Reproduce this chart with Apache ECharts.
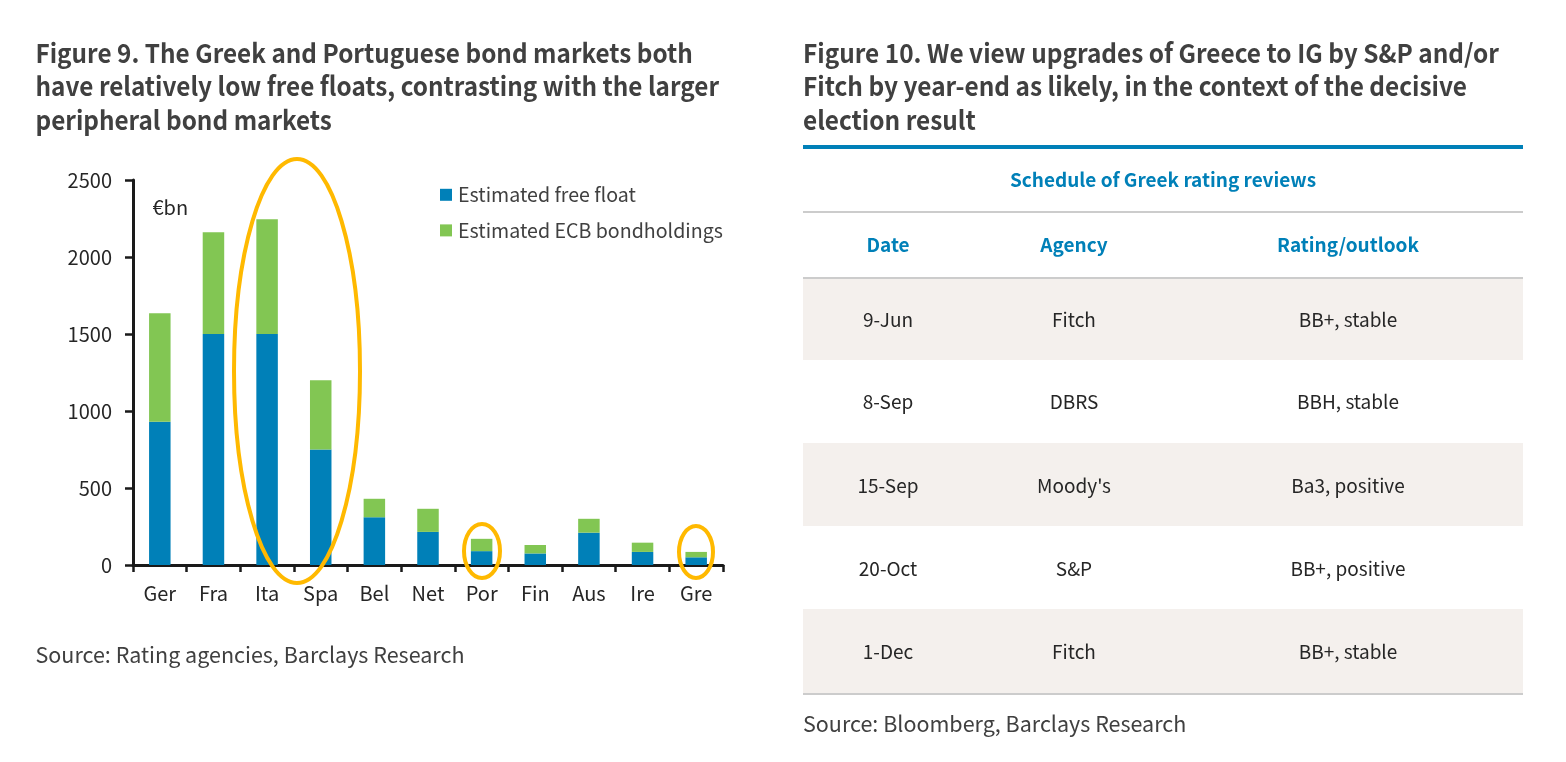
<!DOCTYPE html>
<html><head><meta charset="utf-8">
<style>html,body{margin:0;padding:0;background:#fff}#c{width:1566px;height:762px}</style>
<script src="https://cdn.jsdelivr.net/npm/echarts@6/dist/echarts.min.js"></script>
</head><body><div id="c"></div>
<script>
const categories = ['Ger','Fra','Ita','Spa','Bel','Net','Por','Fin','Aus','Ire','Gre'];
const freeFloat = [930,1500,1500,750,310,215,90,75,210,85,50];
const ecbHoldings = [705,660,745,450,120,150,80,55,90,60,35];
const yTicks = [0,2500,500];
const title9 = ['Figure 9. The Greek and Portuguese bond markets both','have relatively low free floats, contrasting with the larger','peripheral bond markets'];
const title10 = ['Figure 10. We view upgrades of Greece to IG by S&P and/or','Fitch by year-end as likely, in the context of the decisive','election result'];
const source9 = 'Source: Rating agencies, Barclays Research';
const source10 = 'Source: Bloomberg, Barclays Research';
const tableTitle = 'Schedule of Greek rating reviews';
const tableHead = ['Date','Agency','Rating/outlook'];
const dates = ['9-Jun','8-Sep','15-Sep','20-Oct','1-Dec'];
const agencies = ['Fitch','DBRS',"Moody's",'S&P','Fitch'];
const ratings = ['BB+, stable','BBH, stable','Ba3, positive','BB+, positive','BB+, stable'];

const FONT='"Noto Sans CJK SC","Noto Sans",sans-serif';
const BLUE='#0080b8', GREEN='#82c653', DARK='#404040', AMBER='#ffb900', BAND='#f4f0ed', RULE='#cccccc', INK='#262626';
const TX=803, TW=720, colX=[888,1074,1348];
const rowBands=[[279,81],[360,83],[443,83],[526,83],[609,84]];
const rowTextY=[319.5,401.5,485.5,568.5,651.5];

function text(x,y,s,size,weight,fill,align,sx){
  return {type:'text',x:x,y:y,scaleX:sx||1,z:20,style:{text:s,font:`${weight} ${size}px ${FONT}`,fill:fill,align:align||'left',verticalAlign:'middle'}};
}
function rule(y,h,c){return {type:'rect',z:5,shape:{x:TX,y:y,width:TW,height:h},style:{fill:c}};}
function oval(cx,cy,rx,ry){return {type:'ellipse',z:30,shape:{cx,cy,rx,ry},style:{fill:'none',stroke:AMBER,lineWidth:4}};}

const g=[];
title9.forEach((s,i)=>g.push(text(35.5,53+i*33.5,s,26,600,DARK,'left',0.935)));
title10.forEach((s,i)=>g.push(text(803,53+i*33.5,s,26,600,DARK,'left',0.938)));
g.push(text(152.5,207,'€bn',20,400,INK));
g.push(text(35.5,655,source9,21.5,400,DARK));
g.push(text(803,724,source10,21.5,400,DARK));
g.push(rule(145,4,BLUE));
g.push(text(TX+TW/2,180,tableTitle,19,700,BLUE,'center'));
g.push(rule(211,2,RULE));
tableHead.forEach((s,i)=>g.push(text(colX[i],245,s,19,700,BLUE,'center')));
g.push(rule(277,2,RULE));
[0,2,4].forEach(i=>g.push(rule(rowBands[i][0],rowBands[i][1],BAND)));
dates.forEach((s,i)=>{
  g.push(text(colX[0],rowTextY[i],s,19,400,INK,'center'));
  g.push(text(colX[1],rowTextY[i],agencies[i],19,400,INK,'center'));
  g.push(text(colX[2],rowTextY[i],ratings[i],19,400,INK,'center'));
});
g.push(rule(693,2,RULE));
g.push(oval(297,371,63,212),oval(482,551,18,27),oval(696,552,17,26));

const chart=echarts.init(document.getElementById('c'),null,{renderer:'canvas'});
chart.setOption({
  animation:false,backgroundColor:'#fff',textStyle:{fontFamily:FONT},
  grid:{left:133,top:180,width:590,height:385,containLabel:false},
  legend:{left:435,top:180,orient:'vertical',itemWidth:12,itemHeight:12,itemGap:16,icon:'rect',
    textStyle:{fontFamily:FONT,fontSize:19.6,color:DARK,padding:[0,0,0,1]},data:['Estimated free float','Estimated ECB bondholdings'],selectedMode:false},
  xAxis:{type:'category',data:categories,boundaryGap:true,
    axisLine:{lineStyle:{color:'#1a1a1a',width:3}},axisTick:{show:true,length:7,alignWithLabel:false,lineStyle:{color:'#1a1a1a',width:2.5}},
    axisLabel:{fontFamily:FONT,fontSize:20,color:INK,margin:18,interval:0}},
  yAxis:{type:'value',min:yTicks[0],max:yTicks[1],interval:yTicks[2],
    splitLine:{show:false},axisLine:{show:true,lineStyle:{color:'#1a1a1a',width:3}},
    axisTick:{show:true,length:8,lineStyle:{color:'#1a1a1a',width:2.5}},
    axisLabel:{fontFamily:FONT,fontSize:20,color:INK,margin:21,formatter:v=>String(v)}},
  series:[
    {name:'Estimated free float',type:'bar',stack:'t',data:freeFloat,barWidth:21.5,itemStyle:{color:BLUE}},
    {name:'Estimated ECB bondholdings',type:'bar',stack:'t',data:ecbHoldings,barWidth:21.5,itemStyle:{color:GREEN}}
  ],
  graphic:g
});
</script></body></html>
